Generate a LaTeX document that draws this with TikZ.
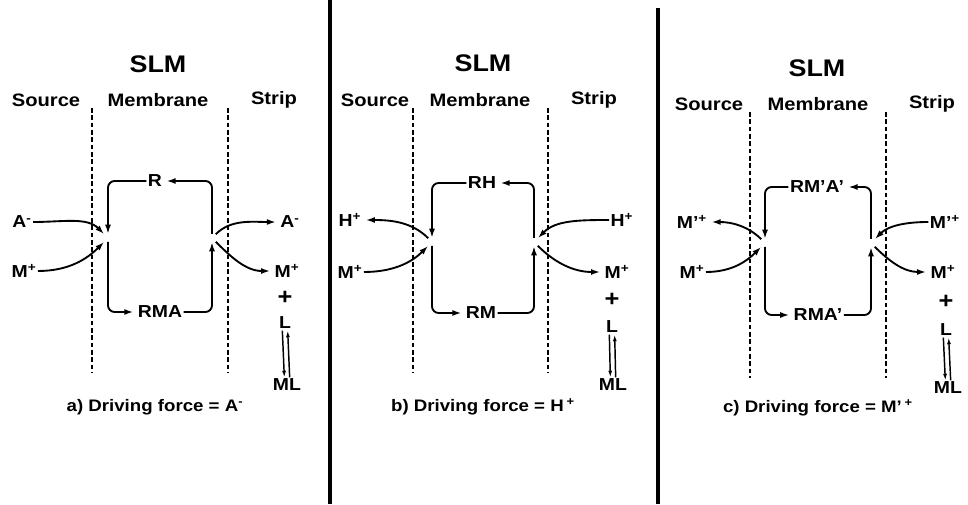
\documentclass[tikz,border=0pt]{standalone}
\usepackage{fontspec}
\setmainfont{Liberation Sans}[FakeStretch=1.12]
\usetikzlibrary{arrows.meta}

\begin{document}
\begin{tikzpicture}[
  x=0.75pt,y=0.75pt,
  lab/.style={font=\bfseries\fontsize{13}{15}\selectfont,inner sep=1pt},
  plus/.style={font=\bfseries\fontsize{17}{19}\selectfont,inner sep=1pt},
  head/.style={font=\bfseries\fontsize{13.5}{15}\selectfont,inner sep=1pt},
  title/.style={font=\bfseries\fontsize{18}{20}\selectfont,inner sep=1pt},
  caption/.style={font=\bfseries\fontsize{12.5}{15}\selectfont,inner sep=1pt},
  arr/.style={-{Latex[length=7pt,width=4.5pt]},line width=1.4pt,shorten >=2pt},
  loopline/.style={arr,rounded corners=5pt},
  eq/.style={-{Latex[length=5pt,width=3pt]},line width=1.1pt},
  bound/.style={line width=0.8pt,dash pattern=on 3.5pt off 2pt},
  wall/.style={line width=2.6pt}
]
\useasboundingbox (0,0) rectangle (968,504);

% separators
\draw[wall] (330,0) -- (330,504);
\draw[wall] (658,0) -- (658,496);

% a) driving force A-
\node[title] (slma) at (158,440) {SLM};
\node[head] (srca) at (46,404) {Source};
\node[head] (mema) at (158,404) {Membrane};
\node[head] (stra) at (274,404) {Strip};
\draw[bound] (92,396) -- (92,131);
\draw[bound] (228,396) -- (228,131);
\coordinate (jla) at (108,266);
\coordinate (jra) at (212,266);
\node[lab] (ra) at (155,323) {R};
\node[lab] (rma) at (160,192) {RMA};
\node[lab] (aina) at (22,282) {A\textsuperscript{-}};
\node[lab] (mina) at (24,233) {M\textsuperscript{+}};
\node[lab] (aouta) at (290,282) {A\textsuperscript{-}};
\node[lab] (mouta) at (287,233) {M\textsuperscript{+}};
\node[plus] (plusa) at (285,206) {+};
\node[lab] (la) at (285,181) {L};
\node[lab] (mla) at (287,119) {ML};
\node[caption] (capa) at (155,97) {a) Driving force = A\textsuperscript{-}};

\draw[loopline,shorten >=3pt] (ra.west) -| (jla);
\draw[loopline,shorten <=3pt] (jla) |- (rma.west);
\draw[loopline,shorten >=3pt] (rma.east) -| (jra);
\draw[loopline,shorten <=3pt] (jra) |- (ra.east);
\draw[arr,shorten >=4pt] (aina.east) to[out=0,in=135] (jla);
\draw[arr,shorten >=4pt] (mina.east) to[out=0,in=225] (jla);
\draw[arr,shorten <=4pt] (jra) to[out=45,in=180] (aouta.west);
\draw[arr,shorten <=4pt] (jra) to[out=-45,in=180] (mouta.west);
\draw[eq] ([xshift=-2pt]la.south) -- ([xshift=-2pt]mla.north);
\draw[eq] ([xshift=2pt]mla.north) -- ([xshift=2pt]la.south);

% b) driving force H+
\node[title] (slmb) at (483,441) {SLM};
\node[head] (srcb) at (375,404) {Source};
\node[head] (memb) at (480,404) {Membrane};
\node[head] (strb) at (594,404) {Strip};
\draw[bound] (413,396) -- (413,131);
\draw[bound] (548,396) -- (548,131);
\coordinate (jlb) at (432,262);
\coordinate (jrb) at (534,262);
\node[lab] (rhb) at (482,321) {RH};
\node[lab] (rmb) at (481,191) {RM};
\node[lab] (houtb) at (350,284) {H\textsuperscript{+}};
\node[lab] (minb) at (350,232) {M\textsuperscript{+}};
\node[lab] (hinb) at (622,284) {H\textsuperscript{+}};
\node[lab] (moutb) at (617,232) {M\textsuperscript{+}};
\node[plus] (plusb) at (612,204) {+};
\node[lab] (lb) at (612,177) {L};
\node[lab] (mlb) at (613,119) {ML};
\node[caption] (capb) at (483,97) {b) Driving force = H\,\textsuperscript{+}};

\draw[loopline,shorten >=3pt] (rhb.west) -| (jlb);
\draw[loopline,shorten <=3pt] (jlb) |- (rmb.west);
\draw[loopline,shorten >=3pt] (rmb.east) -| (jrb);
\draw[loopline,shorten <=3pt] (jrb) |- (rhb.east);
\draw[arr,shorten <=4pt] (jlb) to[out=135,in=0] (houtb.east);
\draw[arr,shorten >=4pt] (minb.east) to[out=0,in=225] (jlb);
\draw[arr,shorten >=4pt] (hinb.west) to[out=180,in=45] (jrb);
\draw[arr,shorten <=4pt] (jrb) to[out=-45,in=180] (moutb.west);
\draw[eq] ([xshift=-2pt]lb.south) -- ([xshift=-2pt]mlb.north);
\draw[eq] ([xshift=2pt]mlb.north) -- ([xshift=2pt]lb.south);

% c) driving force M'+
\node[title] (slmc) at (817,436) {SLM};
\node[head] (srcc) at (709,400) {Source};
\node[head] (memc) at (818,400) {Membrane};
\node[head] (strc) at (932,400) {Strip};
\draw[bound] (750,392) -- (750,126);
\draw[bound] (886,392) -- (886,126);
\coordinate (jlc) at (765,261);
\coordinate (jrc) at (871,261);
\node[lab] (rmac) at (817,317) {RM'A'};
\node[lab] (rmapc) at (818,189) {RMA'};
\node[lab] (mpoutc) at (692,282) {M'\textsuperscript{+}};
\node[lab] (minc) at (692,232) {M\textsuperscript{+}};
\node[lab] (mpinc) at (945,282) {M'\textsuperscript{+}};
\node[lab] (moutc) at (943,232) {M\textsuperscript{+}};
\node[plus] (plusc) at (946,202) {+};
\node[lab] (lc) at (946,174) {L};
\node[lab] (mlc) at (948,116) {ML};
\node[caption] (capc) at (818,96) {c) Driving force = M'\,\textsuperscript{+}};

\draw[loopline,shorten >=3pt] (rmac.west) -| (jlc);
\draw[loopline,shorten <=3pt] (jlc) |- (rmapc.west);
\draw[loopline,shorten >=3pt] (rmapc.east) -| (jrc);
\draw[loopline,shorten <=3pt] (jrc) |- (rmac.east);
\draw[arr,shorten <=4pt] (jlc) to[out=135,in=0] (mpoutc.east);
\draw[arr,shorten >=4pt] (minc.east) to[out=0,in=225] (jlc);
\draw[arr,shorten >=4pt] (mpinc.west) to[out=180,in=45] (jrc);
\draw[arr,shorten <=4pt] (jrc) to[out=-45,in=180] (moutc.west);
\draw[eq] ([xshift=-2pt]lc.south) -- ([xshift=-2pt]mlc.north);
\draw[eq] ([xshift=2pt]mlc.north) -- ([xshift=2pt]lc.south);
\end{tikzpicture}
\end{document}
